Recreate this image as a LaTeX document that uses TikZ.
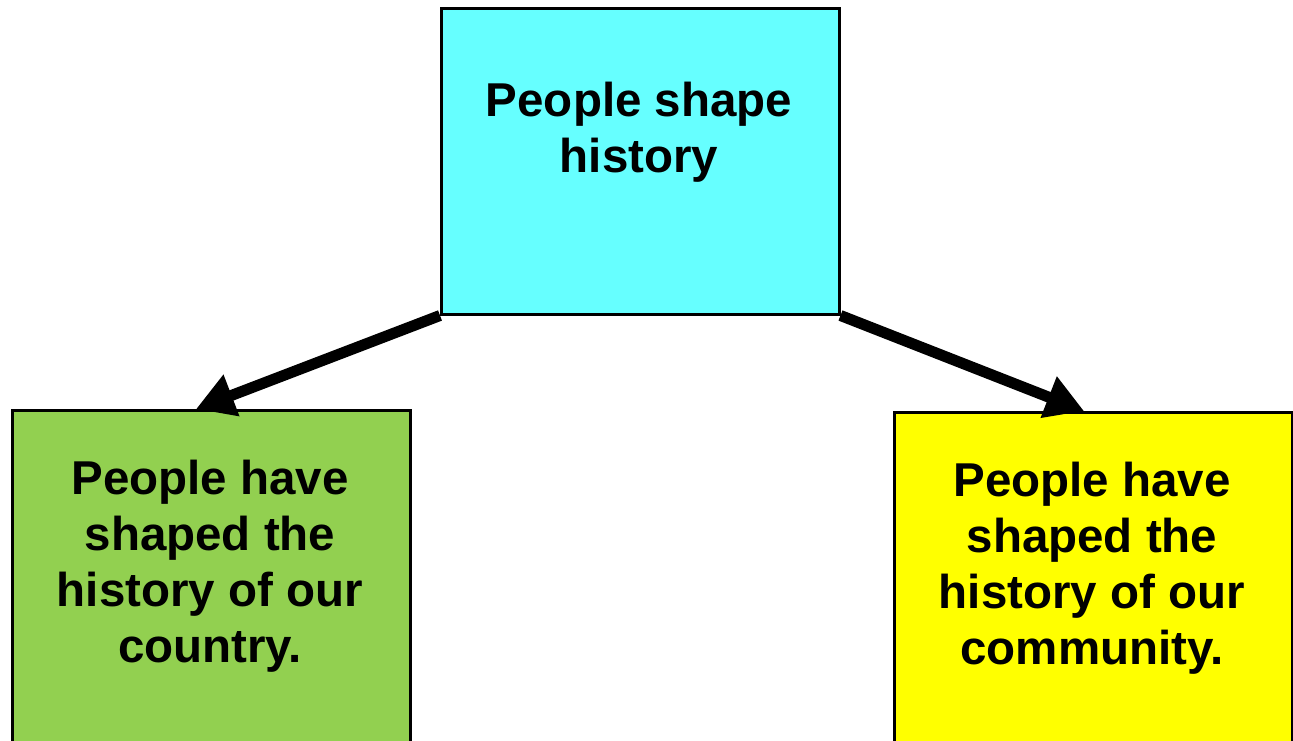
\documentclass[tikz,border=0pt]{standalone}
\usepackage{fontspec}
\setmainfont{Liberation Sans}
\usetikzlibrary{arrows.meta,calc}
\definecolor{topc}{HTML}{66FFFF}
\definecolor{leftc}{HTML}{92D050}
\definecolor{rightc}{HTML}{FFFF00}
\tikzset{
  box/.style={draw=black, line width=2.5pt, rectangle, inner sep=0pt, minimum width=398pt, anchor=north west},
  txt/.style={align=center, inner sep=0pt, font=\fontsize{47.5}{56}\selectfont\bfseries},
  arr/.style={line width=11pt, -{Triangle[length=38pt,width=42pt]}}
}
\begin{document}
\begin{tikzpicture}[x=1pt,y=-1pt]
\useasboundingbox (0,0) rectangle (1293,740);
\clip (0,0) rectangle (1293,740);
\fill[white] (0,0) rectangle (1293,740);
\node[box, fill=topc, minimum height=306pt] (top) at (440,7) {};
\node[box, fill=leftc, minimum height=360pt] (left) at (11,409) {};
\node[box, fill=rightc, minimum height=360pt] (right) at (893,411) {};
\node[txt] (toptext) at (639,132) {People shape\\history};
\node[txt] (lefttext) at (210,566.6) {People have\\shaped the\\history of our\\country.};
\node[txt] (righttext) at (1092,568) {People have\\shaped the\\history of our\\community.};
\draw[arr] (top.south west) -- ($(left.north west)!0.462!(left.north east)$);
\draw[arr] (top.south east) -- ($(right.north west)!0.477!(right.north east)$);
\end{tikzpicture}
\end{document}
